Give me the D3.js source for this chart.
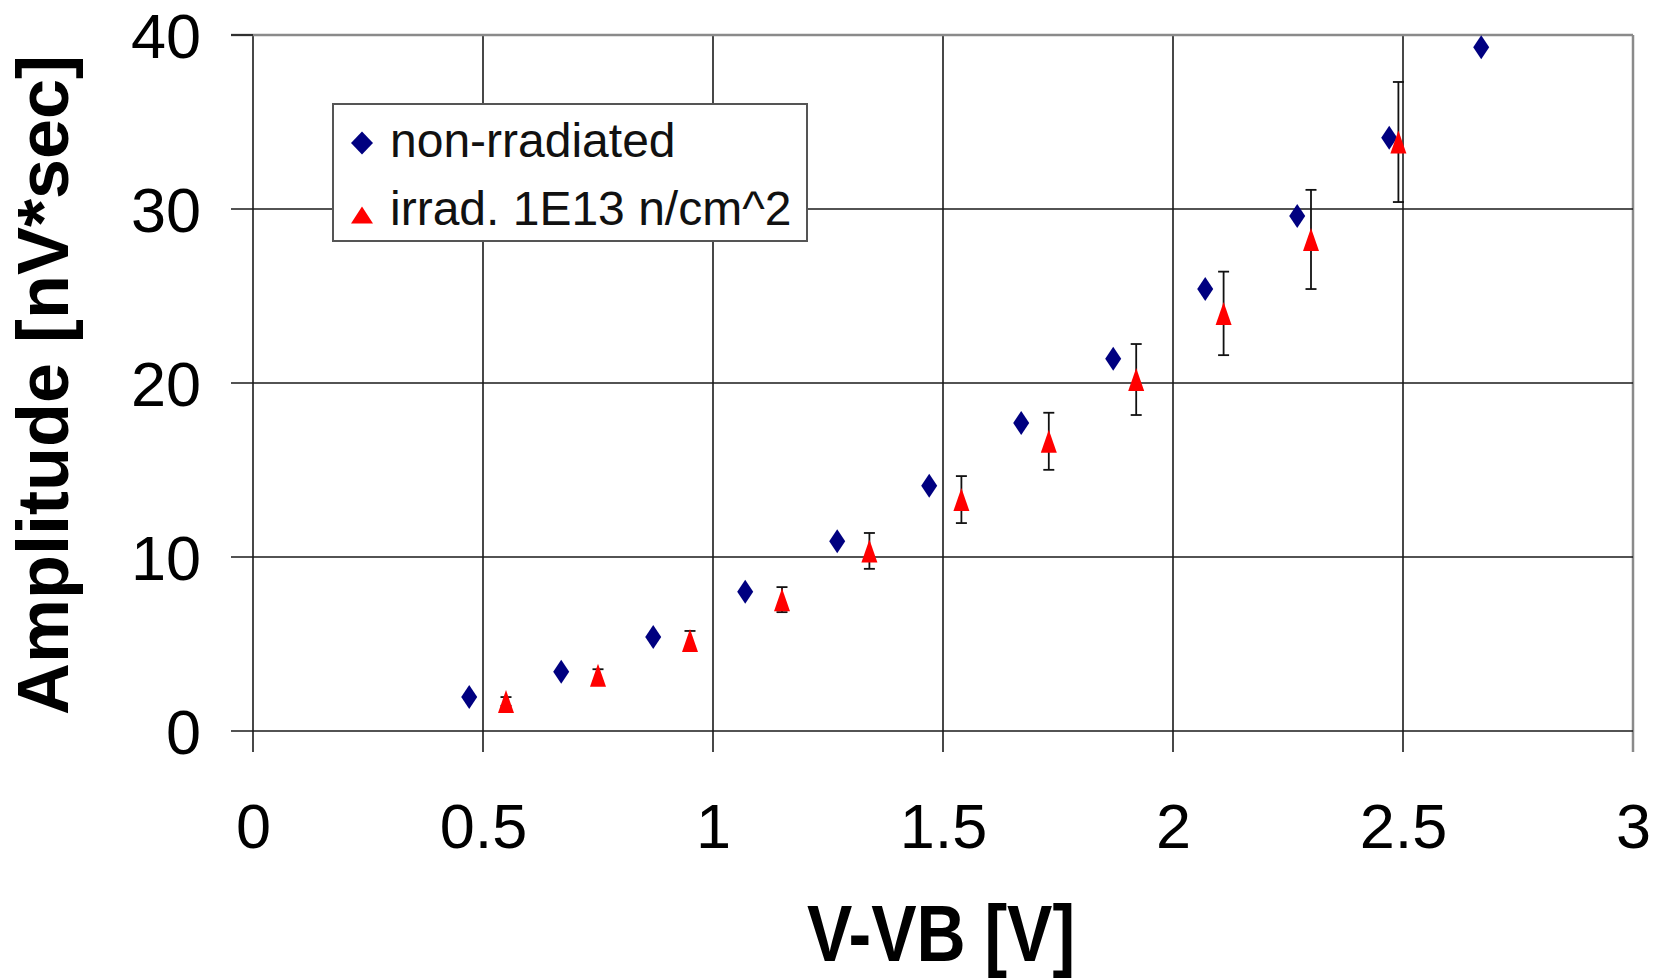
<!DOCTYPE html>
<html lang="en">
<head>
    <meta charset="UTF-8">
    <title>Amplitude vs V-VB</title>
    <script src="https://d3js.org/d3.v7.min.js"></script>
    <style>
        body { margin: 0; background: #fff; font-family: "Liberation Sans", Arial, sans-serif; }
        svg { display: block; }
    </style>
</head>
<body>
    <script>
        // Data
        const xNonIrr = [0.47, 0.67, 0.87, 1.07, 1.27, 1.47, 1.67, 1.87, 2.07, 2.27, 2.47, 2.67];
        const yNonIrr = [1.95, 3.4, 5.4, 8.0, 10.9, 14.1, 17.7, 21.4, 25.4, 29.6, 34.1, 39.3];

        const xIrr = [0.55, 0.75, 0.95, 1.15, 1.34, 1.54, 1.73, 1.92, 2.11, 2.30, 2.49];
        const yIrr = [1.7, 3.2, 5.2, 7.55, 10.35, 13.3, 16.65, 20.2, 24.0, 28.25, 33.85];
        const errIrr = [0.25, 0.35, 0.55, 0.72, 1.03, 1.35, 1.64, 2.04, 2.4, 2.85, 3.45];

        const xTicks = [0, 0.5, 1, 1.5, 2, 2.5, 3];
        const yTicks = [0, 10, 20, 30, 40];
        const seriesNames = ["non-rradiated", "irrad. 1E13 n/cm^2"];
        const xTitle = "V-VB [V]";
        const yTitle = "Amplitude [nV*sec]";

        const W = 1663, H = 979;
        const margin = {top: 35, right: 30, bottom: 248, left: 253};

        const svg = d3.select("body").append("svg")
            .attr("width", W)
            .attr("height", H);

        const x = d3.scaleLinear().domain([0, 3]).range([margin.left, W - margin.right]);
        const y = d3.scaleLinear().domain([0, 40]).range([H - margin.bottom, margin.top]);

        // grid
        const grid = svg.append("g");
        grid.selectAll(".vgrid")
            .data(xTicks)
            .enter().append("line")
            .attr("x1", d => x(d)).attr("x2", d => x(d))
            .attr("y1", y(0) + 21).attr("y2", y(40))
            .attr("stroke", d => d === 3 ? "#8a8a8a" : "#1a1a1a")
            .attr("stroke-width", d => d === 3 ? 2.5 : 1.6);
        grid.selectAll(".hgrid")
            .data(yTicks)
            .enter().append("line")
            .attr("x1", x(0) - 22).attr("x2", x(3))
            .attr("y1", d => y(d)).attr("y2", d => y(d))
            .attr("stroke", d => d === 40 ? "#8a8a8a" : "#1a1a1a")
            .attr("stroke-width", d => d === 40 ? 2.5 : 1.6);
        // tick part of the top line stays dark
        grid.append("line")
            .attr("x1", x(0) - 22).attr("x2", x(0))
            .attr("y1", y(40)).attr("y2", y(40))
            .attr("stroke", "#1a1a1a").attr("stroke-width", 1.6);

        // axes (labels only, lines drawn above)
        const xAxis = svg.append("g")
            .attr("transform", `translate(0,${y(0)})`)
            .call(d3.axisBottom(x).tickValues(xTicks).tickSize(0).tickFormat(d3.format("")));
        xAxis.select(".domain").remove();
        xAxis.selectAll("text")
            .attr("y", 117).attr("dy", null)
            .attr("font-family", "'Liberation Sans', Arial, sans-serif")
            .attr("font-size", 63).attr("fill", "#000");

        const yAxis = svg.append("g")
            .attr("transform", `translate(${x(0)},0)`)
            .call(d3.axisLeft(y).tickValues(yTicks).tickSize(0).tickPadding(52));
        yAxis.select(".domain").remove();
        yAxis.selectAll("text")
            .attr("dy", "0.36em")
            .attr("font-family", "'Liberation Sans', Arial, sans-serif")
            .attr("font-size", 63).attr("fill", "#000");

        // axis titles
        svg.append("text")
            .attr("transform", `translate(${(x(0) + x(3)) / 2 - 2},${H - 18}) scale(1,1.18)`)
            .attr("text-anchor", "middle")
            .attr("font-weight", "bold")
            .attr("font-size", 68)
            .text(xTitle);

        svg.append("text")
            .attr("transform", `translate(68,385) rotate(-90)`)
            .attr("text-anchor", "middle")
            .attr("font-weight", "bold")
            .attr("font-size", 72)
            .text(yTitle);

        // markers
        const diamond = (hw, hh) => `M0,${-hh}L${hw},0L0,${hh}L${-hw},0Z`;
        const triangle = (w, h) => `M0,${-h / 2}L${w / 2},${h / 2}L${-w / 2},${h / 2}Z`;

        const nonIrr = xNonIrr.map((v, i) => ({x: v, y: yNonIrr[i]}));
        const irr = xIrr.map((v, i) => ({x: v, y: yIrr[i], e: errIrr[i]}));

        svg.append("g").selectAll("path")
            .data(nonIrr)
            .enter().append("path")
            .attr("transform", d => `translate(${x(d.x)},${y(d.y)})`)
            .attr("d", diamond(8, 12))
            .attr("fill", "#000080");

        // error bars
        const bars = svg.append("g")
            .attr("stroke", "#111")
            .attr("stroke-width", 1.8);
        irr.forEach(d => {
            const cx = x(d.x);
            bars.append("line")
                .attr("x1", cx).attr("x2", cx)
                .attr("y1", y(d.y - d.e)).attr("y2", y(d.y + d.e));
            [d.y - d.e, d.y + d.e].forEach(v => {
                bars.append("line")
                    .attr("x1", cx - 5.5).attr("x2", cx + 5.5)
                    .attr("y1", y(v)).attr("y2", y(v));
            });
        });

        svg.append("g").selectAll("path")
            .data(irr)
            .enter().append("path")
            .attr("transform", d => `translate(${x(d.x)},${y(d.y)})`)
            .attr("d", triangle(16, 23))
            .attr("fill", "#ff0000");

        // legend
        const legend = svg.append("g");
        legend.append("rect")
            .attr("x", 333).attr("y", 104)
            .attr("width", 474).attr("height", 137)
            .attr("fill", "#fff")
            .attr("stroke", "#555")
            .attr("stroke-width", 2);
        legend.append("path")
            .attr("transform", "translate(362,143)")
            .attr("d", diamond(11, 11.5))
            .attr("fill", "#000080");
        legend.append("path")
            .attr("transform", "translate(362,215)")
            .attr("d", triangle(22, 17))
            .attr("fill", "#ff0000");
        legend.selectAll(".lbl")
            .data(seriesNames)
            .enter().append("text")
            .attr("x", 390)
            .attr("y", (d, i) => 157 + i * 68)
            .attr("font-size", 48)
            .attr("fill", "#111")
            .text(d => d);
    </script>
</body>
</html>
